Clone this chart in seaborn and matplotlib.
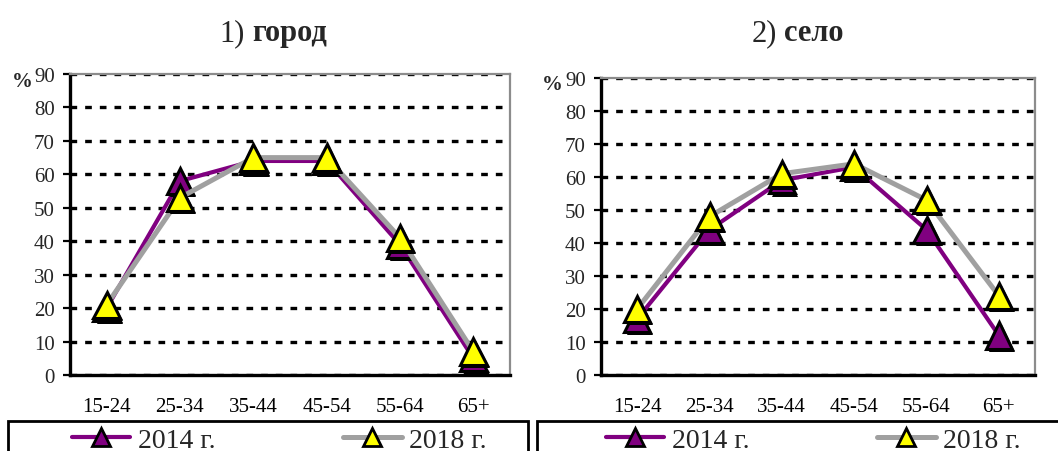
import numpy as np
import matplotlib
matplotlib.use("Agg")
import matplotlib.pyplot as plt
import matplotlib.patheffects as pe
from matplotlib.lines import Line2D
from matplotlib.patches import Rectangle
import seaborn as sns

# Age groups and shares (%) for the two survey years
ages = ["15-24", "25-34", "35-44", "45-54", "55-64", "65+"]
city_2014 = [20, 58, 64, 64, 39, 5]
city_2018 = [21, 53, 65, 65, 41, 7]
rural_2014 = [17, 44, 59, 63, 44, 12]
rural_2018 = [20, 48, 61, 64, 53, 24]
yticks = list(range(0, 91, 10))
series_labels = ["2014 г.", "2018 г."]
panel_numbers = ["1)", "2)"]
panel_names = ["город", "село"]

sns.set_style("white")
plt.rcParams["font.family"] = ["Liberation Serif", "DejaVu Serif"]

W, H = 1058, 452
fig = plt.figure(figsize=(W / 100, H / 100), dpi=100)
fig.patch.set_facecolor("white")

PURPLE = "#800080"
GREY = "#a0a0a0"
YELLOW = "#ffff00"


def fx(px):
    return px / W


def fy(py):
    return 1 - py / H


# axes boxes in pixels: left, top, right, bottom
boxes = [(70, 75, 510, 376), (601, 79, 1035, 376)]
panels = [(city_2014, city_2018), (rural_2014, rural_2018)]

shadow = [pe.SimplePatchShadow(offset=(2.2, -2.2), shadow_rgbFace="black", alpha=1.0), pe.Normal()]
x = np.arange(len(ages))

axes = []
for (l, t, r, b), (s14, s18) in zip(boxes, panels):
    ax = fig.add_axes([fx(l), fy(b), fx(r - l), fy(t) - fy(b)])
    axes.append(ax)
    for vals, col, lw, mfc, z in [(s14, PURPLE, 3.0, PURPLE, 3), (s18, GREY, 3.6, YELLOW, 5)]:
        sns.lineplot(x=x, y=vals, ax=ax, color=col, linewidth=lw, zorder=z)
        sns.lineplot(x=x, y=vals, ax=ax, linestyle="none", marker="^", markersize=19,
                     markerfacecolor=mfc, markeredgecolor="black", markeredgewidth=2.2,
                     path_effects=shadow, zorder=z + 1)
    ax.set_xlim(-0.5, len(ages) - 0.5)
    ax.set_ylim(0, 90)
    ax.set_yticks(yticks)
    ax.set_xticks(x)
    ax.set_xticklabels(ages)
    ax.set_xticks(np.arange(-0.5, len(ages), 1.0), minor=True)
    ax.tick_params(axis="x", which="major", length=0, pad=16, labelsize=15, colors="black")
    ax.tick_params(axis="x", which="minor", length=6, width=2, direction="out", color="black")
    ax.tick_params(axis="y", length=5, width=1.6, direction="out", pad=6, labelsize=15,
                   color="black", left=True)
    ax.yaxis.grid(True, color="black", linestyle=(0, (2.0, 2.4)), linewidth=2.4)
    ax.xaxis.grid(False)
    ax.set_axisbelow(True)
    for side in ["left", "bottom"]:
        ax.spines[side].set_color("black")
        ax.spines[side].set_linewidth(2.4)
    for side in ["top", "right"]:
        ax.spines[side].set_color("#8c8c8c")
        ax.spines[side].set_linewidth(1.6)
        ax.spines[side].set_visible(True)
    ax.set_xlabel("")
    ax.set_ylabel("")

# percent sign beside the top tick
for cx, cy in [(22, 82), (552, 85)]:
    fig.text(fx(cx), fy(cy), "%", ha="center", va="center", fontsize=15, fontweight="bold")

# panel titles: number in regular weight, name in bold
for (xn, xt), num, name in zip([(245, 252), (777, 784)], panel_numbers, panel_names):
    fig.text(fx(xn), fy(41), num, ha="right", va="baseline", fontsize=22)
    fig.text(fx(xt), fy(41), name, ha="left", va="baseline", fontsize=22, fontweight="bold")

# legend boxes and entries below each panel
handles = [
    Line2D([], [], color=PURPLE, lw=3.0, marker="^", markersize=13, markerfacecolor=PURPLE,
           markeredgecolor="black", markeredgewidth=2),
    Line2D([], [], color=GREY, lw=3.6, marker="^", markersize=13, markerfacecolor=YELLOW,
           markeredgecolor="black", markeredgewidth=2),
]
for (bx0, bx1), hx in [((8, 528), 72), ((537, 1100), 606)]:
    fig.add_artist(Rectangle((fx(bx0), fy(480)), fx(bx1 - bx0), fy(422) - fy(480),
                             transform=fig.transFigure, fill=False, edgecolor="black",
                             linewidth=2, clip_on=False))
    fig.legend(handles, series_labels, loc="center left", bbox_to_anchor=(fx(hx), fy(441)),
               ncol=2, frameon=False, fontsize=20, handlelength=2.1, handletextpad=0.27,
               columnspacing=4.6, borderpad=0, borderaxespad=0)

fig.savefig("out.png", dpi=100, facecolor="white")
